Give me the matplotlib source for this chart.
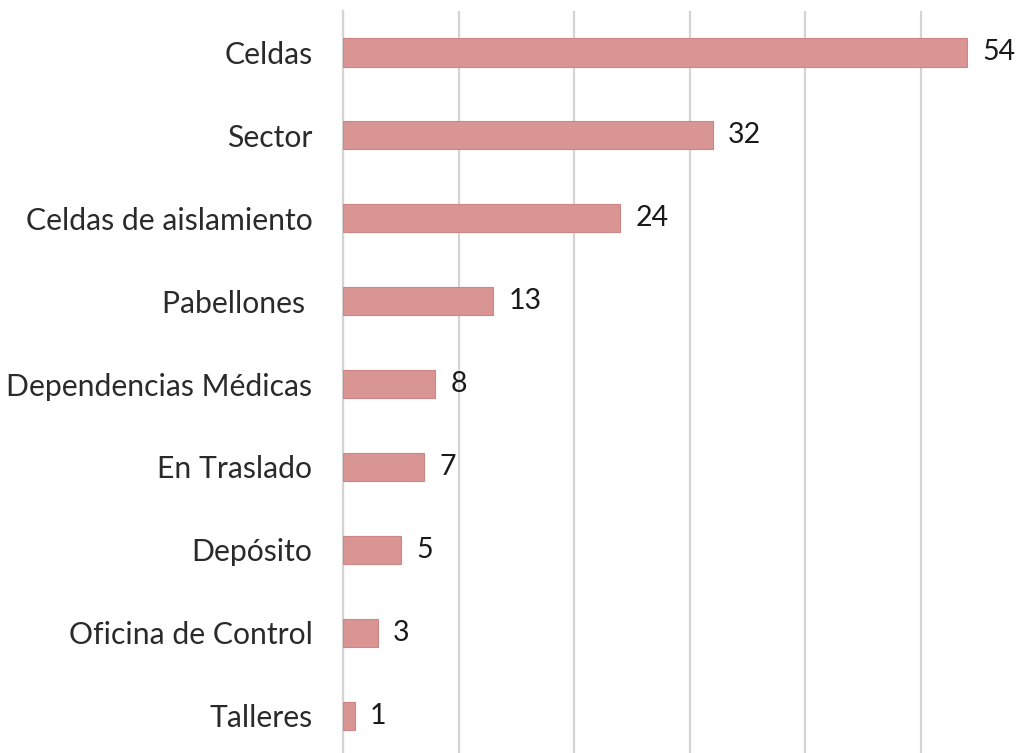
import matplotlib.pyplot as plt

categorias = ["Celdas", "Sector", "Celdas de aislamiento", "Pabellones ",
              "Dependencias Médicas", "En Traslado", "Depósito",
              "Oficina de Control", "Talleres"]
valores = [54, 32, 24, 13, 8, 7, 5, 3, 1]
ticks_x = [0, 10, 20, 30, 40, 50]

plt.rcParams['font.family'] = ['Lato', 'DejaVu Sans']

fig = plt.figure(figsize=(10.27, 7.53), dpi=100)
ax = fig.add_axes([343 / 1027, 0, 1 - 343 / 1027, 1 - 11 / 753])

pos = list(range(len(categorias)))
bars = ax.barh(pos, valores, height=0.34, color='#D99594', edgecolor='#CF8584',
               linewidth=0.8, zorder=3)

for b, v in zip(bars, valores):
    ax.annotate(str(v), (b.get_width(), b.get_y() + b.get_height() / 2),
                xytext=(11, 0), textcoords='offset points', ha='left',
                va='center', fontsize=20.5, color='#1a1a1a')

ax.set_xlim(0, (1027 - 343) / 11.55)
ax.set_ylim(8.45, -0.5)
ax.set_yticks(pos)
ax.set_yticklabels(categorias, fontsize=21.7, color='#2a2a2a')
ax.set_xticks(ticks_x)
ax.tick_params(axis='y', length=0, pad=22)
ax.tick_params(axis='x', length=0, labelbottom=False)
ax.grid(axis='x', color='#D4D4D4', linewidth=1.6, zorder=0)
ax.axvline(0, color='#D4D4D4', linewidth=1.6, zorder=1, clip_on=False)
for s in ax.spines.values():
    s.set_visible(False)

fig.savefig('out.png', dpi=100)
